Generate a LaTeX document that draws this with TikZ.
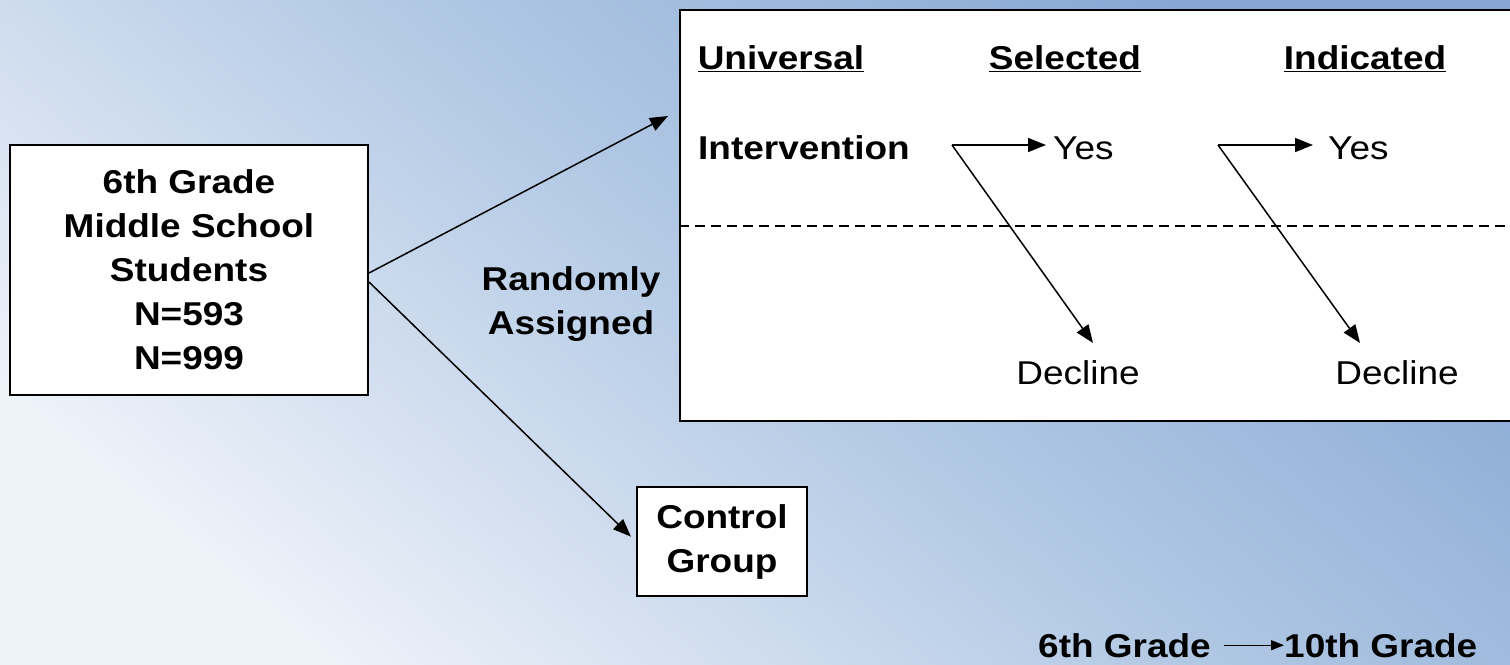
\documentclass[tikz,border=0pt]{standalone}
\usepackage{fontspec}
\setmainfont{Liberation Sans}[FakeStretch=1.12]
\usetikzlibrary{arrows.meta}

\definecolor{bg_dark}{RGB}{135,168,212}
\definecolor{bg_mid}{RGB}{180,202,229}
\definecolor{bg_light}{RGB}{238,242,249}

\begin{document}
\begin{tikzpicture}[x=1pt,y=-1pt,
    big_font/.style={font=\fontsize{33}{44}\selectfont\bfseries},
    plain_font/.style={font=\fontsize{33}{44}\selectfont},
    group_box/.style={draw,fill=white,line width=2pt,align=center,big_font,inner sep=0pt},
    label_node/.style={inner sep=0pt,anchor=base},
    link/.style={line width=1.5pt,-{Triangle[length=18pt,width=14pt]}},
    small_link/.style={line width=1.2pt,-{Triangle[length=13pt,width=10pt]}}]

    \useasboundingbox (0,0) rectangle (1510,664);
    \clip (0,0) rectangle (1510,664);
    \shade[top color=bg_dark,bottom color=bg_light,middle color=bg_mid,shading angle=-40] (0,0) rectangle (1510,664);

    \node[group_box,minimum width=358,minimum height=250] (students) at (189,270) {6th Grade\\Middle School\\Students\\N=593\\N=999};
    \node[group_box,minimum width=170,minimum height=109] (control) at (722,541.5) {Control\\Group};
    \node[draw,fill=white,line width=2pt,minimum width=840,minimum height=411] (program) at (1100,215.5) {};
    \node[big_font,align=center,inner sep=0pt] (random) at (571,304) {Randomly\\Assigned};

    \node[label_node,big_font] (universal) at (781,69) {\underline{Universal}};
    \node[label_node,big_font] (selected) at (1065,69) {\underline{Selected}};
    \node[label_node,big_font] (indicated) at (1365,69) {\underline{Indicated}};
    \node[label_node,big_font,anchor=base west] (intervention) at (698,159) {Intervention};
    \node[label_node,plain_font,anchor=base west] (yes_sel) at (1053,159) {Yes};
    \node[label_node,plain_font,anchor=base west] (yes_ind) at (1328,159) {Yes};
    \node[label_node,plain_font] (dec_sel) at (1078,384) {Decline};
    \node[label_node,plain_font] (dec_ind) at (1397,384) {Decline};

    \node[label_node,big_font,anchor=base west] (grade_six) at (1038,657) {6th Grade};
    \node[label_node,big_font,anchor=base west] (grade_ten) at (1284,657) {10th Grade};

    \coordinate (assign_tip) at (668,116);
    \coordinate (fork_sel) at (952,145);
    \coordinate (fork_ind) at (1218,145);
    \coordinate (dec_sel_tip) at (1093,343);
    \coordinate (dec_ind_tip) at (1360,343);

    \draw[link] ([yshift=-3pt]students.east) -- (assign_tip);
    \draw[link,shorten >=7pt] ([yshift=-12pt]students.east) -- (control.west);
    \draw[line width=1.5pt,dash pattern=on 10pt off 6pt] ([yshift=-10.5pt]program.west) -- ([yshift=-10.5pt]program.east);
    \draw[link,shorten >=7pt] (fork_sel) -- (fork_sel -| yes_sel.west);
    \draw[link,shorten >=15pt] (fork_ind) -- (fork_ind -| yes_ind.west);
    \draw[link] (fork_sel) -- (dec_sel_tip);
    \draw[link] (fork_ind) -- (dec_ind_tip);
    \draw[small_link,shorten <=13pt] (grade_six.east) -- (grade_ten.west);
\end{tikzpicture}
\end{document}
